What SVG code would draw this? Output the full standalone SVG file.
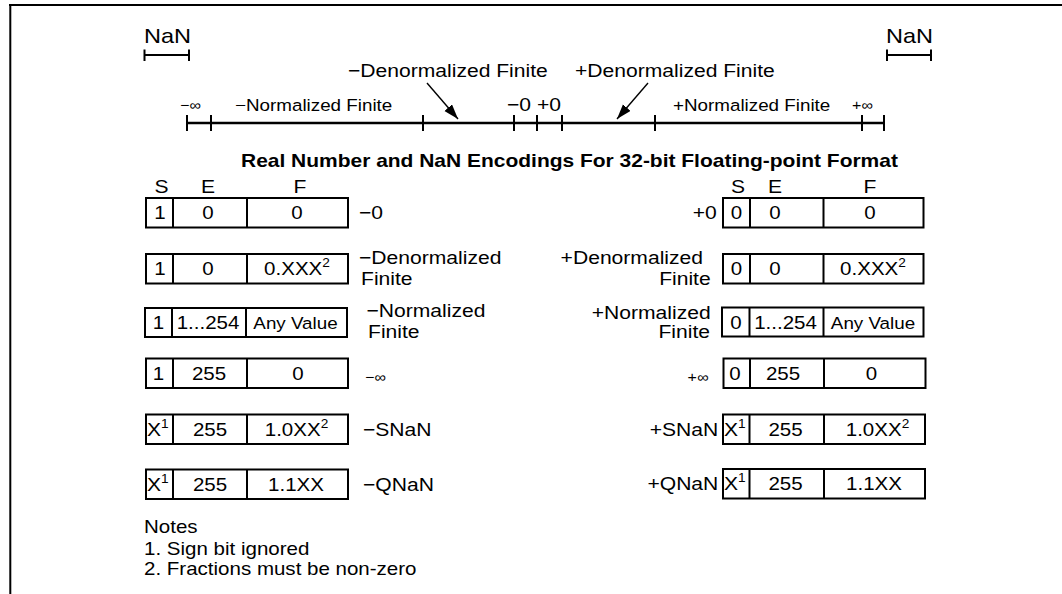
<svg xmlns="http://www.w3.org/2000/svg" width="1062" height="594" viewBox="0 0 1062 594">
<style>
text{font-family:"Liberation Sans",Arial,sans-serif;fill:#000}
.b{font-size:18.5px}
.n{font-size:18px}
.nan{font-size:21px}
.s{font-size:16.5px}
.inf{font-size:14px}
.c{font-size:18px;text-anchor:middle}
.cs{font-size:16.5px;text-anchor:middle}
.e{text-anchor:end}
.t{font-size:18.4px;font-weight:bold}
.sup{font-size:12px}
.box{fill:#fff;stroke:#000;stroke-width:2}
.ln{stroke:#000;stroke-width:2;fill:none}
.ax{stroke:#000;stroke-width:2.3;fill:none}
.ar{stroke:#000;stroke-width:1.4;fill:none}
</style>
<defs>
<marker id="ah" markerUnits="userSpaceOnUse" markerWidth="16" markerHeight="12" refX="15" refY="5" orient="auto">
<path d="M0,0 L15,5 L0,10 Z" fill="#000"/>
</marker>
</defs>
<rect width="1062" height="594" fill="#fff"/>
<g id="frame">
<path class="ln" d="M9,5 H1062 M10.3,5 V594"/>
</g>

<g id="axis">
<path class="ax" d="M187,123 H884"/>
<path class="ln" d="M187,115 V131 M211,115 V131 M423,115 V131 M514,115 V131 M537,115 V131 M562,115 V131 M655,115 V131 M862,115 V131 M884,115 V131"/>
<path class="ln" d="M144.5,55 H189 M144.5,49.5 V61 M189,49.5 V61"/>
<path class="ln" d="M887,55 H931 M887,49.5 V61 M931,49.5 V61"/>
<text class="nan" transform="translate(144,43) scale(1.12,1)">NaN</text>
<text class="nan" transform="translate(886,43) scale(1.12,1)">NaN</text>
<text class="inf" transform="translate(180,110) scale(1.14,1)">−∞</text>
<text class="inf" transform="translate(852,110) scale(1.14,1)">+∞</text>
<text class="s" transform="translate(235,111) scale(1.14,1)">−Normalized Finite</text>
<text class="s" transform="translate(673,111) scale(1.14,1)">+Normalized Finite</text>
<text class="b" transform="translate(507,110.7) scale(1.14,1)">−0 +0</text>
<text class="b" transform="translate(348,77) scale(1.14,1)">−Denormalized Finite</text>
<text class="b" transform="translate(575,77) scale(1.14,1)">+Denormalized Finite</text>
</g>

<g id="connectors">
<path class="ar" d="M427,83 L458,119" marker-end="url(#ah)"/>
<path class="ar" d="M648,83 L617,119" marker-end="url(#ah)"/>
</g>

<g id="title">
<text class="t" transform="translate(241,166.7) scale(1.14,1)">Real Number and NaN Encodings For 32-bit Floating-point Format</text>
</g>

<g id="headers">
<text class="b" text-anchor="middle" transform="translate(161.5,193) scale(1.14,1)">S</text>
<text class="b" text-anchor="middle" transform="translate(208,193) scale(1.14,1)">E</text>
<text class="b" text-anchor="middle" transform="translate(300,193) scale(1.14,1)">F</text>
<text class="b" text-anchor="middle" transform="translate(738,193) scale(1.14,1)">S</text>
<text class="b" text-anchor="middle" transform="translate(775,193) scale(1.14,1)">E</text>
<text class="b" text-anchor="middle" transform="translate(870,193) scale(1.14,1)">F</text>
</g>

<!-- left rows -->
<g id="neg-zero">
<rect class="box" x="146" y="198" width="202" height="29.5"/>
<path class="ln" d="M173,198 V227.5 M247,198 V227.5"/>
<text class="c" transform="translate(160,219.3) scale(1.14,1)">1</text>
<text class="c" transform="translate(208,219.3) scale(1.14,1)">0</text>
<text class="c" transform="translate(297,219.3) scale(1.14,1)">0</text>
<text class="b" transform="translate(359,219.3) scale(1.14,1)">−0</text>
</g>
<g id="neg-denorm">
<rect class="box" x="146" y="254" width="202" height="29.5"/>
<path class="ln" d="M173,254 V283.5 M247,254 V283.5"/>
<text class="c" transform="translate(160,275.3) scale(1.14,1)">1</text>
<text class="c" transform="translate(208,275.3) scale(1.14,1)">0</text>
<text class="c" transform="translate(297,275.3) scale(1.14,1)">0.XXX<tspan class="sup" dy="-8">2</tspan></text>
<text class="b" transform="translate(359,263.5) scale(1.14,1)">−Denormalized</text>
<text class="b" transform="translate(361,284.5) scale(1.14,1)">Finite</text>
</g>
<g id="neg-norm">
<rect class="box" x="145" y="308" width="202" height="29"/>
<path class="ln" d="M172,308 V337 M246,308 V337"/>
<text class="c" transform="translate(158.5,329) scale(1.14,1)">1</text>
<text class="c" transform="translate(208,329) scale(1.14,1)">1...254</text>
<text class="cs" transform="translate(295.5,329) scale(1.14,1)">Any Value</text>
<text class="b" transform="translate(366.5,316.7) scale(1.14,1)">−Normalized</text>
<text class="b" transform="translate(368,338.3) scale(1.14,1)">Finite</text>
</g>
<g id="neg-inf">
<rect class="box" x="146" y="358.5" width="202" height="29.5"/>
<path class="ln" d="M173,358.5 V388 M247,358.5 V388"/>
<text class="c" transform="translate(158.5,379.8) scale(1.14,1)">1</text>
<text class="c" transform="translate(209,379.8) scale(1.14,1)">255</text>
<text class="c" transform="translate(298,379.8) scale(1.14,1)">0</text>
<text class="inf" transform="translate(365,381.5) scale(1.14,1)">−∞</text>
</g>
<g id="neg-snan">
<rect class="box" x="146" y="414.5" width="202" height="29.5"/>
<path class="ln" d="M173,414.5 V444 M247,414.5 V444"/>
<text class="b" transform="translate(147,435.8) scale(1.14,1)">X<tspan class="sup" dy="-8">1</tspan></text>
<text class="c" transform="translate(210,435.8) scale(1.14,1)">255</text>
<text class="c" transform="translate(296.5,435.8) scale(1.14,1)">1.0XX<tspan class="sup" dy="-8">2</tspan></text>
<text class="b" transform="translate(363,435.8) scale(1.14,1)">−SNaN</text>
</g>
<g id="neg-qnan">
<rect class="box" x="146" y="469.5" width="202" height="29.5"/>
<path class="ln" d="M173,469.5 V499 M247,469.5 V499"/>
<text class="b" transform="translate(147,490.8) scale(1.14,1)">X<tspan class="sup" dy="-8">1</tspan></text>
<text class="c" transform="translate(210,490.8) scale(1.14,1)">255</text>
<text class="c" transform="translate(296,490.8) scale(1.14,1)">1.1XX</text>
<text class="b" transform="translate(363,490.8) scale(1.14,1)">−QNaN</text>
</g>

<!-- right rows -->
<g id="pos-zero">
<rect class="box" x="723" y="198" width="200.5" height="29.5"/>
<path class="ln" d="M750,198 V227.5 M823.5,198 V227.5"/>
<text class="c" transform="translate(736.5,219.3) scale(1.14,1)">0</text>
<text class="c" transform="translate(775,219.3) scale(1.14,1)">0</text>
<text class="c" transform="translate(870,219.3) scale(1.14,1)">0</text>
<text class="b e" transform="translate(716.7,219.3) scale(1.14,1)">+0</text>
</g>
<g id="pos-denorm">
<rect class="box" x="723" y="254" width="200.5" height="29.5"/>
<path class="ln" d="M750,254 V283.5 M823.5,254 V283.5"/>
<text class="c" transform="translate(736.5,275.3) scale(1.14,1)">0</text>
<text class="c" transform="translate(775,275.3) scale(1.14,1)">0</text>
<text class="c" transform="translate(873,275.3) scale(1.14,1)">0.XXX<tspan class="sup" dy="-8">2</tspan></text>
<text class="b e" transform="translate(703,263.5) scale(1.14,1)">+Denormalized</text>
<text class="b e" transform="translate(710.7,284.5) scale(1.14,1)">Finite</text>
</g>
<g id="pos-norm">
<rect class="box" x="722" y="307.5" width="201.5" height="29"/>
<path class="ln" d="M749.5,307.5 V336.5 M823.5,307.5 V336.5"/>
<text class="c" transform="translate(736,328.8) scale(1.14,1)">0</text>
<text class="c" transform="translate(785.5,328.8) scale(1.14,1)">1...254</text>
<text class="cs" transform="translate(873,328.8) scale(1.14,1)">Any Value</text>
<text class="b e" transform="translate(710.7,319.3) scale(1.14,1)">+Normalized</text>
<text class="b e" transform="translate(710,338.3) scale(1.14,1)">Finite</text>
</g>
<g id="pos-inf">
<rect class="box" x="723.5" y="358.5" width="202" height="29.5"/>
<path class="ln" d="M750,358.5 V388 M824,358.5 V388"/>
<text class="c" transform="translate(735,379.8) scale(1.14,1)">0</text>
<text class="c" transform="translate(783,379.8) scale(1.14,1)">255</text>
<text class="c" transform="translate(871.5,379.8) scale(1.14,1)">0</text>
<text class="inf e" transform="translate(708.3,381.5) scale(1.14,1)">+∞</text>
</g>
<g id="pos-snan">
<rect class="box" x="723" y="414.5" width="202" height="29.5"/>
<path class="ln" d="M749.5,414.5 V444 M824,414.5 V444"/>
<text class="b" transform="translate(724,435.8) scale(1.14,1)">X<tspan class="sup" dy="-8">1</tspan></text>
<text class="c" transform="translate(785.5,435.8) scale(1.14,1)">255</text>
<text class="c" transform="translate(877.5,435.8) scale(1.14,1)">1.0XX<tspan class="sup" dy="-8">2</tspan></text>
<text class="b e" transform="translate(718.3,435.8) scale(1.14,1)">+SNaN</text>
</g>
<g id="pos-qnan">
<rect class="box" x="723" y="469" width="202" height="29.5"/>
<path class="ln" d="M749.5,469 V498.5 M824,469 V498.5"/>
<text class="b" transform="translate(724,490.3) scale(1.14,1)">X<tspan class="sup" dy="-8">1</tspan></text>
<text class="c" transform="translate(785.5,490.3) scale(1.14,1)">255</text>
<text class="c" transform="translate(874,490.3) scale(1.14,1)">1.1XX</text>
<text class="b e" transform="translate(718.3,490.3) scale(1.14,1)">+QNaN</text>
</g>

<g id="notes">
<text class="n" transform="translate(144,533.3) scale(1.14,1)">Notes</text>
<text class="n" transform="translate(144,555) scale(1.14,1)">1. Sign bit ignored</text>
<text class="n" transform="translate(144,575) scale(1.14,1)">2. Fractions must be non-zero</text>
</g>
</svg>
